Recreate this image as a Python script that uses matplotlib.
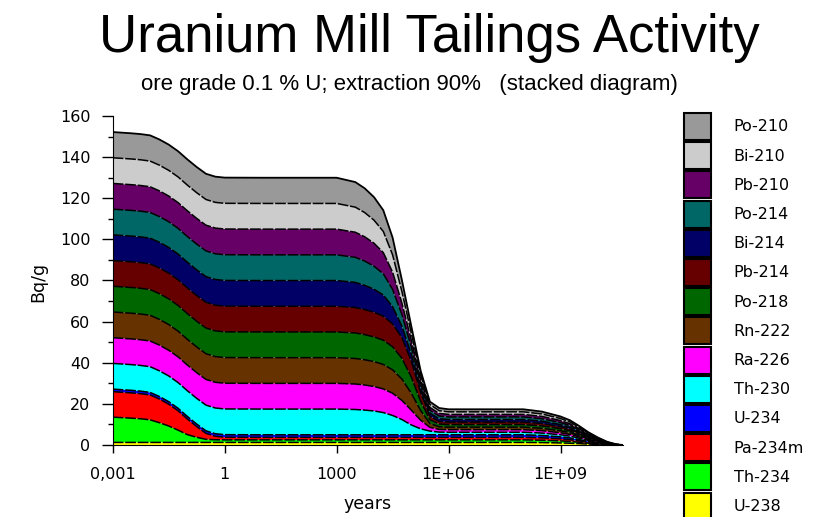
import numpy as np
import matplotlib
matplotlib.use("Agg")
import matplotlib.pyplot as plt
from matplotlib.ticker import MultipleLocator, NullLocator
from matplotlib.patches import Patch

plt.rcParams['font.family'] = ['DejaVu Sans']

# time points (years), log scale
years = [1e-3, 3.16e-3, 5.62e-3, 1e-2, 1.78e-2, 3.16e-2, 5.62e-2, 0.1, 0.178, 0.316, 0.562, 1,
         10, 100, 1e3,
         3.16e3, 5.62e3, 1e4, 1.78e4, 3.16e4, 5.62e4, 1e5, 1.78e5, 3.16e5, 5.62e5,
         1e6, 1e7, 1e8,
         3.16e8, 1e9, 1.78e9, 3.16e9, 5.62e9, 1e10, 1.78e10, 3.16e10, 4.7e10]

# activity of each nuclide in Bq/g
tail = [1.16, 0.99, 0.86, 0.66, 0.44, 0.26, 0.11, 0.02, 0.0]   # 3.16e8 .. 4.7e10
u238 = [1.24] * 28 + tail
th234 = [12.3, 11.8, 11.5, 11.0, 9.6, 8.0, 6.0, 3.8, 2.5, 1.5, 1.3] + [1.24] * 17 + tail
pa234m = [12.4, 12.3, 12.2, 12.1, 11.5, 10.6, 9.4, 7.6, 5.2, 2.9, 1.7, 1.3] + [1.24] * 16 + tail
u234 = [1.24] * 28 + tail
# 3.16e3 .. 5.62e5: decay of Th-230 and its daughters
th230 = [12.5] * 15 + [12.3, 12.0, 11.6, 10.8, 9.4, 7.4, 4.8, 2.9, 1.8, 1.3] + [1.24] * 3 + tail
ra226 = [12.5] * 15 + [12.4, 12.2, 11.9, 11.5, 10.8, 9.3, 7.2, 4.2, 1.8, 1.3] + [1.24] * 3 + tail
rn222 = [12.5] * 15 + [12.4, 12.3, 12.1, 11.9, 11.4, 10.4, 8.2, 4.7, 1.9, 1.3] + [1.24] * 3 + tail
po218 = [12.5] * 15 + [12.4, 12.2, 12.0, 11.8, 11.2, 10.1, 7.9, 4.5, 1.8, 1.3] + [1.24] * 3 + tail
pb214 = [12.5] * 15 + [12.4, 12.2, 12.0, 11.7, 11.1, 10.0, 7.8, 4.4, 1.8, 1.3] + [1.24] * 3 + tail
bi214 = [12.5] * 15 + [12.2, 11.8, 11.2, 10.3, 8.4, 5.6, 3.4, 2.1, 1.4, 1.3] + [1.24] * 3 + tail
po214 = [12.5] * 15 + [12.2, 11.8, 11.2, 10.3, 8.4, 5.6, 3.4, 2.1, 1.4, 1.3] + [1.24] * 3 + tail
pb210 = [12.5] * 15 + [12.2, 11.8, 11.2, 10.3, 8.4, 5.6, 3.4, 2.1, 1.4, 1.3] + [1.24] * 3 + tail
bi210 = [12.5] * 15 + [12.2, 11.8, 11.2, 10.3, 8.4, 5.6, 3.4, 2.1, 1.4, 1.3] + [1.24] * 3 + tail
po210 = [12.5] * 15 + [12.2, 11.8, 11.2, 10.3, 8.4, 5.6, 3.4, 2.1, 1.4, 1.3] + [1.24] * 3 + tail

names = ["U-238", "Th-234", "Pa-234m", "U-234", "Th-230", "Ra-226", "Rn-222",
         "Po-218", "Pb-214", "Bi-214", "Po-214", "Pb-210", "Bi-210", "Po-210"]
series = [u238, th234, pa234m, u234, th230, ra226, rn222,
          po218, pb214, bi214, po214, pb210, bi210, po210]
colors = ["#ffff00", "#00ff00", "#ff0000", "#0000ff", "#00ffff", "#ff00ff", "#663300",
          "#006600", "#660000", "#000066", "#006666", "#660066", "#cccccc", "#999999"]

fig = plt.figure(figsize=(8.25, 5.17), dpi=100)
ax = fig.add_axes([0.1366, 0.1393, 0.6185, 0.6364])

ax.stackplot(years, series, colors=colors, linewidth=0)
tops = np.cumsum(np.array(series), axis=0)
for top in tops[:-1]:
    ax.plot(years, top, color="black", lw=1.1, ls=(0, (7, 1.2)))
ax.plot(years, tops[-1], color="black", lw=1.3)

ax.set_xscale("log")
ax.set_xlim(1e-3, 4.7e10)
ax.set_ylim(0, 160)
ax.set_xticks([1e-3, 1, 1e3, 1e6, 1e9], ["0,001", "1", "1000", "1E+06", "1E+09"])
ax.xaxis.set_minor_locator(NullLocator())
ax.yaxis.set_major_locator(MultipleLocator(20))
ax.yaxis.set_minor_locator(MultipleLocator(10))
for s in ["top", "right"]:
    ax.spines[s].set_visible(False)
ax.tick_params(axis="y", which="major", length=8, width=1, pad=8, labelsize=11.5)
ax.tick_params(axis="y", which="minor", length=3.5, width=1)
ax.tick_params(axis="x", which="major", length=6, width=1, pad=10, labelsize=11.5)

ax.set_xlabel("years", fontsize=12.5)
ax.xaxis.label.set_va("baseline")
ax.xaxis.set_label_coords(0.5, -(509 - 445) / 329)
ax.set_ylabel("Bq/g", fontsize=12.5)
ax.yaxis.label.set_va("center")
ax.yaxis.set_label_coords((38 - 112.7) / 510.3, (445 - 282) / 329)

fig.text(429 / 825, 1 - 52 / 517, "Uranium Mill Tailings Activity", ha="center",
         va="baseline", fontsize=38, family="Liberation Sans")
fig.text(409.5 / 825, 1 - 90 / 517, "ore grade 0.1 % U; extraction 90%   (stacked diagram)",
         ha="center", va="baseline", fontsize=16, family="Liberation Sans")

handles = [Patch(facecolor=c, edgecolor="black", linewidth=1.5, label=n)
           for n, c in zip(names, colors)][::-1]
fig.legend(handles=handles, loc="upper left", bbox_to_anchor=(684 / 825, 1 - 113 / 517),
           frameon=False, fontsize=11.5, handlelength=1.7, handleheight=2.22,
           labelspacing=0.14, handletextpad=1.4, borderpad=0, borderaxespad=0)

plt.savefig("out.png", dpi=100)
